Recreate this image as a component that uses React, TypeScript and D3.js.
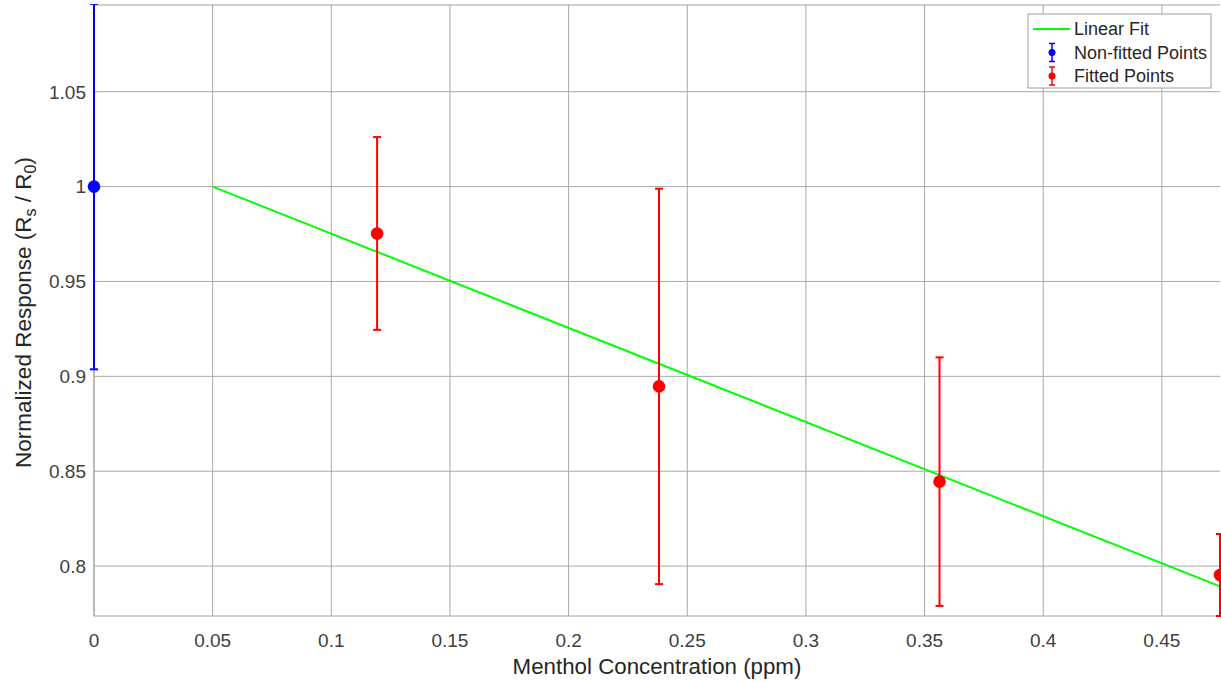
import React from 'react';
import * as d3 from 'd3';

// data
const blueX = [0];
const blueY = [1.0];
const blueErr = [0.0963];

const redX = [0.1193, 0.2381, 0.3563, 0.4745];
const redY = [0.9753, 0.8947, 0.8445, 0.7953];
const redErr = [0.0508, 0.1042, 0.0655, 0.0216];

const fitX = [0.05, 0.4745];
const fitY = [1.0, 0.7893];

const xTicks = [0, 0.05, 0.1, 0.15, 0.2, 0.25, 0.3, 0.35, 0.4, 0.45];
const yTicks = [0.8, 0.85, 0.9, 0.95, 1, 1.05];

const W = 1221;
const H = 682;
const M = { left: 94, right: 1220, top: 5, bottom: 616 };
const FONT = '"Liberation Sans", Arial, Helvetica, sans-serif';

export default function App() {
  const x = d3.scaleLinear().domain([0, 0.4745]).range([M.left, M.right]);
  const y = d3.scaleLinear().domain([0.7737, 1.0957]).range([M.bottom, M.top]);
  const line = d3.line<number>().x((_, i) => x(fitX[i])).y(d => y(d));

  const errBars = (xs: number[], ys: number[], es: number[], color: string) =>
    xs.map((xv, i) => {
      const cx = x(xv);
      const y1 = y(ys[i] + es[i]);
      const y2 = y(ys[i] - es[i]);
      return (
        <g key={color + i} stroke={color} strokeWidth={2}>
          <line x1={cx} x2={cx} y1={y1} y2={y2} />
          <line x1={cx - 4} x2={cx + 4} y1={y1} y2={y1} />
          <line x1={cx - 4} x2={cx + 4} y1={y2} y2={y2} />
          <circle cx={cx} cy={y(ys[i])} r={6.3} fill={color} stroke="none" />
        </g>
      );
    });

  const legendItems = [
    { label: 'Linear Fit', kind: 'line', color: '#00ff00' },
    { label: 'Non-fitted Points', kind: 'err', color: '#0000ff' },
    { label: 'Fitted Points', kind: 'err', color: '#ff0000' },
  ];

  return (
    <svg width={W} height={H} style={{ position: 'absolute', left: 0, top: 0, background: '#fff' }} fontFamily={FONT}>
      <defs>
        <clipPath id="plot">
          <rect x={0} y={M.top - 1} width={W} height={M.bottom - M.top + 2} />
        </clipPath>
      </defs>
      {/* grid */}
      <g stroke="#a8a8a8" strokeWidth={1}>
        {xTicks.map(t => (
          <line key={'gx' + t} x1={x(t)} x2={x(t)} y1={M.top} y2={M.bottom} />
        ))}
        {yTicks.map(t => (
          <line key={'gy' + t} x1={M.left} x2={M.right} y1={y(t)} y2={y(t)} />
        ))}
      </g>
      {/* box */}
      <g stroke="#a0a0a0" strokeWidth={1} fill="none">
        <line x1={M.left} x2={M.right} y1={M.top} y2={M.top} />
        <line x1={M.left} x2={M.right} y1={M.bottom} y2={M.bottom} />
        <line x1={M.left} x2={M.left} y1={M.top} y2={M.bottom} />
      </g>
      <g clipPath="url(#plot)">
        <path d={line(fitY) ?? ''} fill="none" stroke="#00ff00" strokeWidth={2} />
        {errBars(blueX, blueY, blueErr, '#0000ff')}
        {errBars(redX, redY, redErr, '#ff0000')}
      </g>
      {/* tick labels */}
      <g fontSize={19} fill="#404040">
        {xTicks.map(t => (
          <text key={'tx' + t} x={x(t)} y={647} textAnchor="middle">{d3.format('')(t)}</text>
        ))}
        {yTicks.map(t => (
          <text key={'ty' + t} x={86} y={y(t)} dy="0.36em" textAnchor="end">{d3.format('')(t)}</text>
        ))}
      </g>
      {/* axis labels */}
      <text x={(M.left + M.right) / 2} y={674} textAnchor="middle" fontSize={22.3} fill="#262626">
        Menthol Concentration (ppm)
      </text>
      <text transform={`translate(31,${(M.top + M.bottom) / 2 + 2}) rotate(-90)`} textAnchor="middle" fontSize={22.5} fill="#262626">
        Normalized Response (R<tspan fontSize={16} dy={5}>s</tspan><tspan dy={-5}> / R</tspan><tspan fontSize={16} dy={5}>0</tspan><tspan dy={-5}>)</tspan>
      </text>
      {/* legend */}
      <g>
        <rect x={1028} y={14} width={183} height={74} fill="#fff" stroke="#a0a0a0" strokeWidth={1} />
        {legendItems.map((it, i) => {
          const ly = 29 + i * 23.5;
          return (
            <g key={it.label}>
              {it.kind === 'line' ? (
                <line x1={1033} x2={1070} y1={ly} y2={ly} stroke={it.color} strokeWidth={2} />
              ) : (
                <g stroke={it.color} strokeWidth={1.5}>
                  <line x1={1052} x2={1052} y1={ly - 9} y2={ly + 9} />
                  <line x1={1049} x2={1055} y1={ly - 9} y2={ly - 9} />
                  <line x1={1049} x2={1055} y1={ly + 9} y2={ly + 9} />
                  <circle cx={1052} cy={ly} r={3.5} fill={it.color} stroke="none" />
                </g>
              )}
              <text x={1074} y={ly} dy="0.36em" fontSize={18} fill="#262626">{it.label}</text>
            </g>
          );
        })}
      </g>
    </svg>
  );
}
